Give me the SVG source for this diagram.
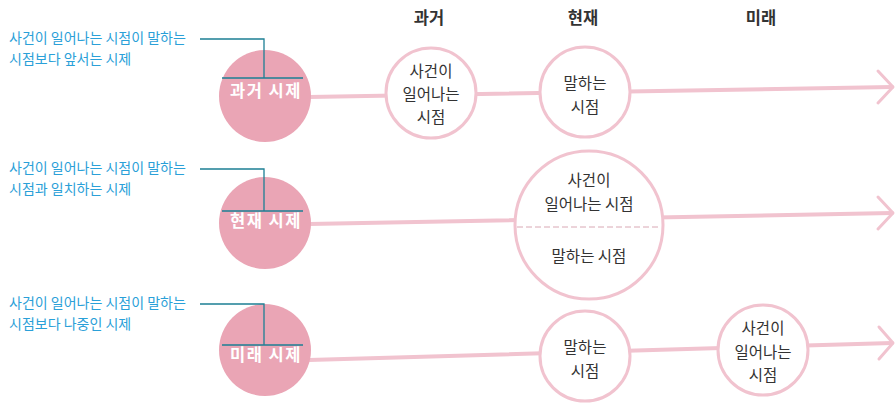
<svg xmlns="http://www.w3.org/2000/svg" width="896" height="410" viewBox="0 0 896 410">
<style>
.ann{font-family:"Noto Sans CJK KR","Noto Sans",sans-serif;font-size:14px;fill:#2aa0d8}
.hdr{font-family:"Noto Sans CJK KR","Noto Sans",sans-serif;font-size:16.5px;font-weight:bold;fill:#333;text-anchor:middle}
.lbl{font-family:"Noto Sans CJK KR","Noto Sans",sans-serif;font-size:16.5px;font-weight:bold;letter-spacing:1.5px;fill:#fff;text-anchor:middle}
.nt{font-family:"Noto Sans CJK KR","Noto Sans",sans-serif;font-size:15.5px;fill:#333;text-anchor:middle}
.tense{fill:#eaa5b5}
.node{fill:#fff;stroke:#f1c3cf;stroke-width:3}
.tl{fill:none;stroke:#f1c3cf;stroke-width:4;stroke-linecap:round}
.arr{fill:none;stroke:#f1c3cf;stroke-width:3;stroke-linecap:round;stroke-linejoin:round}
.lead{fill:none;stroke:#1d7f94;stroke-width:1.3}
</style>
<g id="headers">
<text class="hdr" x="429" y="24">과거</text>
<text class="hdr" x="583" y="24">현재</text>
<text class="hdr" x="761" y="24">미래</text>
</g>
<g id="connectors">
<path class="tl" d="M309 97 L892 87"/>
<path class="arr" d="M878 71 L893 87 L878 103"/>
<path class="tl" d="M309 224 L892 213"/>
<path class="arr" d="M878 197 L893 213 L878 229"/>
<path class="tl" d="M309 360 L892 343"/>
<path class="arr" d="M879 327 L893 343 L879 359"/>
</g>
<g id="past-tense">
<circle class="tense" cx="265" cy="96" r="46"/>
<text class="lbl" x="266" y="97">과거 시제</text>
<text class="ann" x="9" y="43">사건이 일어나는 시점이 말하는</text>
<text class="ann" x="9" y="64">시점보다 앞서는 시제</text>
<path class="lead" d="M200 39 H264 V78 M222 78 H303"/>
</g>
<g id="present-tense">
<circle class="tense" cx="265" cy="223" r="46"/>
<text class="lbl" x="266" y="227">현재 시제</text>
<text class="ann" x="9" y="173">사건이 일어나는 시점이 말하는</text>
<text class="ann" x="9" y="194">시점과 일치하는 시제</text>
<path class="lead" d="M200 169 H264 V211 M222 211 H303"/>
</g>
<g id="future-tense">
<circle class="tense" cx="265" cy="350" r="46"/>
<text class="lbl" x="266" y="361">미래 시제</text>
<text class="ann" x="9" y="308">사건이 일어나는 시점이 말하는</text>
<text class="ann" x="9" y="329">시점보다 나중인 시제</text>
<path class="lead" d="M200 304 H264 V345 M222 345 H303"/>
</g>
<g id="past-event">
<circle class="node" cx="431" cy="93" r="45"/>
<text class="nt" x="431" y="77">사건이</text>
<text class="nt" x="431" y="100">일어나는</text>
<text class="nt" x="431" y="123">시점</text>
</g>
<g id="past-speech">
<circle class="node" cx="585" cy="92" r="45"/>
<text class="nt" x="585" y="89">말하는</text>
<text class="nt" x="585" y="113">시점</text>
</g>
<g id="present-both">
<circle class="node" cx="589" cy="225" r="74"/>
<line x1="517" y1="227" x2="661" y2="227" stroke="#d9a8b4" stroke-width="1" stroke-dasharray="6 3"/>
<text class="nt" x="589" y="186">사건이</text>
<text class="nt" x="589" y="210">일어나는 시점</text>
<text class="nt" x="589" y="262">말하는 시점</text>
</g>
<g id="future-speech">
<circle class="node" cx="585" cy="356" r="45"/>
<text class="nt" x="585" y="353">말하는</text>
<text class="nt" x="585" y="377">시점</text>
</g>
<g id="future-event">
<circle class="node" cx="763" cy="350" r="45"/>
<text class="nt" x="763" y="334">사건이</text>
<text class="nt" x="763" y="358">일어나는</text>
<text class="nt" x="763" y="381">시점</text>
</g>
</svg>
